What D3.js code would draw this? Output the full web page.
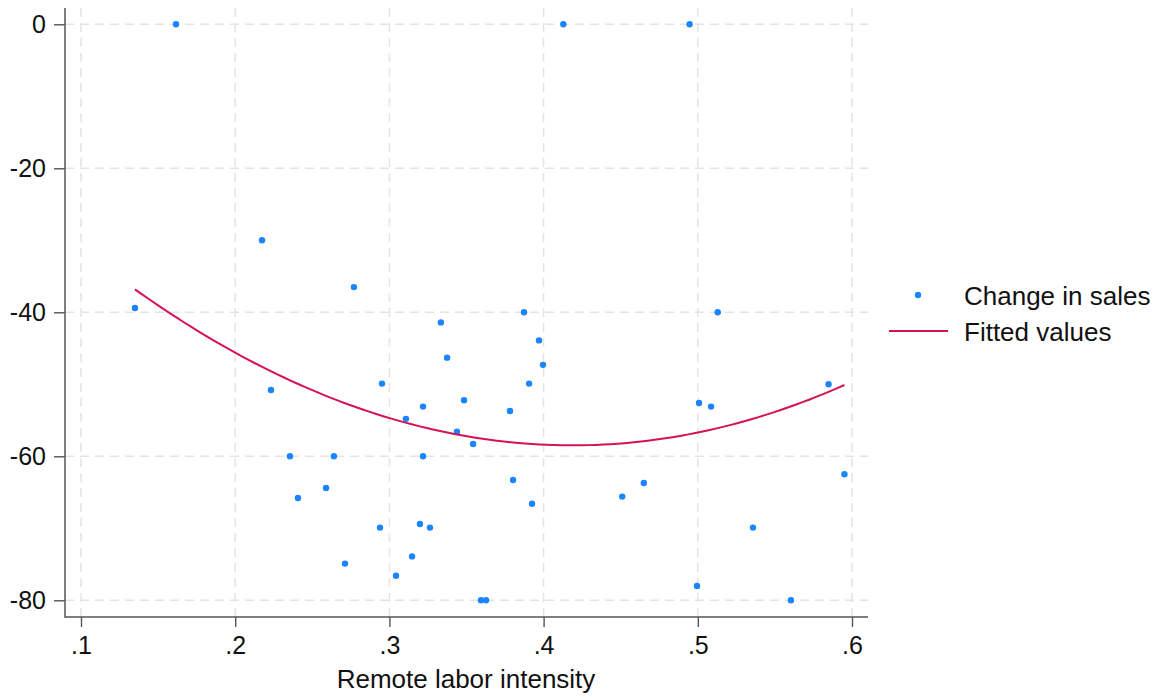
<!DOCTYPE html>
<html>
<head>
<meta charset="utf-8">
<script src="https://cdn.jsdelivr.net/npm/d3@7"></script>
<style>
  html, body { margin: 0; padding: 0; background: #fff; }
  svg { display: block; }
  text { font-family: "Liberation Sans", Arial, sans-serif; fill: #111; }
</style>
</head>
<body>
<svg id="chart" width="1160" height="698"></svg>
<script>
// ---- Data ----
const remoteIntensity = [0.135, 0.1616, 0.2174, 0.2232, 0.2355, 0.2407, 0.2589, 0.2640, 0.2712, 0.2770,
  0.2939, 0.2952, 0.3043, 0.3107, 0.3147, 0.3198, 0.3218, 0.3218, 0.3263, 0.3334,
  0.3374, 0.3438, 0.3484, 0.3543, 0.3594, 0.3627, 0.3782, 0.3802, 0.3873, 0.3906,
  0.3925, 0.3970, 0.3996, 0.4128, 0.4510, 0.4650, 0.4947, 0.4995, 0.5008, 0.5086,
  0.5129, 0.5358, 0.5604, 0.5848, 0.5951];
const changeInSales = [-39.4, 0, -30, -50.8, -60, -65.8, -64.4, -60, -74.9, -36.5,
  -69.9, -49.9, -76.6, -54.8, -73.9, -69.4, -53.1, -60, -69.9, -41.4,
  -46.3, -56.6, -52.2, -58.3, -80, -80, -53.7, -63.3, -40, -49.9,
  -66.6, -43.9, -47.3, 0, -65.6, -63.7, 0, -78, -52.6, -53.1,
  -40, -69.9, -80, -50, -62.5];
const xTicks = [0.1, 0.2, 0.3, 0.4, 0.5, 0.6];
const xTickLabels = [".1", ".2", ".3", ".4", ".5", ".6"];
const yTicks = [0, -20, -40, -60, -80];
const yTickLabels = ["0", "-20", "-40", "-60", "-80"];
const xTitle = "Remote labor intensity";
const legendLabels = ["Change in sales", "Fitted values"];

// ---- Quadratic least-squares fit (as in the original "Fitted values") ----
function quadFit(xs, ys) {
  const n = xs.length;
  let S = Array(5).fill(0), T = Array(3).fill(0);
  for (let i = 0; i < n; i++) {
    let p = 1;
    for (let k = 0; k < 5; k++) { S[k] += p; if (k < 3) T[k] += p * ys[i]; p *= xs[i]; }
  }
  const A = [[S[0], S[1], S[2], T[0]], [S[1], S[2], S[3], T[1]], [S[2], S[3], S[4], T[2]]];
  for (let c = 0; c < 3; c++) {
    for (let r = c + 1; r < 3; r++) {
      const f = A[r][c] / A[c][c];
      for (let k = c; k < 4; k++) A[r][k] -= f * A[c][k];
    }
  }
  const b = [0, 0, 0];
  for (let r = 2; r >= 0; r--) {
    let s = A[r][3];
    for (let k = r + 1; k < 3; k++) s -= A[r][k] * b[k];
    b[r] = s / A[r][r];
  }
  return b;
}
const coef = quadFit(remoteIntensity, changeInSales);
const xMin = d3.min(remoteIntensity), xMax = d3.max(remoteIntensity);
const fitted = d3.range(0, 101).map(i => {
  const x = xMin + (xMax - xMin) * i / 100;
  return [x, coef[0] + coef[1] * x + coef[2] * x * x];
});

// ---- Layout ----
const svg = d3.select("#chart");
const plotLeft = 65, plotRight = 868, plotTop = 8, plotBottom = 617;
const x = d3.scaleLinear().domain([0.1, 0.6]).range([81, 852]);
const y = d3.scaleLinear().domain([0, -80]).range([24.3, 600.3]);

const gridColor = "#e4e4e4";
// grid lines
svg.append("g").selectAll("line").data(yTicks).join("line")
  .attr("x1", plotLeft).attr("x2", plotRight)
  .attr("y1", d => y(d)).attr("y2", d => y(d))
  .attr("stroke", gridColor).attr("stroke-width", 1.5).attr("stroke-dasharray", "9,6");
svg.append("g").selectAll("line").data(xTicks).join("line")
  .attr("y1", plotTop).attr("y2", plotBottom)
  .attr("x1", d => x(d)).attr("x2", d => x(d))
  .attr("stroke", gridColor).attr("stroke-width", 1.5).attr("stroke-dasharray", "9,6");

// axes
const axisColor = "#555";
const yAxis = svg.append("g").attr("transform", `translate(${plotLeft},0)`)
  .call(d3.axisLeft(y).tickValues(yTicks).tickFormat((d, i) => yTickLabels[i]).tickSize(11).tickPadding(8));
const xAxis = svg.append("g").attr("transform", `translate(0,${plotBottom})`)
  .call(d3.axisBottom(x).tickValues(xTicks).tickFormat((d, i) => xTickLabels[i]).tickSize(10).tickPadding(9));
[yAxis, xAxis].forEach(g => {
  g.select(".domain").remove();
  g.selectAll(".tick line").attr("stroke", axisColor).attr("stroke-width", 1.4);
  g.selectAll(".tick text").attr("font-size", 25).attr("fill", "#111")
    .attr("font-family", "'Liberation Sans', Arial, sans-serif");
});
svg.append("line").attr("x1", plotLeft).attr("x2", plotLeft).attr("y1", plotTop).attr("y2", plotBottom + 0.7)
  .attr("stroke", axisColor).attr("stroke-width", 1.5);
svg.append("line").attr("x1", plotLeft).attr("x2", plotRight).attr("y1", plotBottom).attr("y2", plotBottom)
  .attr("stroke", axisColor).attr("stroke-width", 1.5);

// axis title
svg.append("text").attr("x", 466).attr("y", 688).attr("text-anchor", "middle")
  .attr("font-size", 26).text(xTitle);

const blue = "#1a85ff", red = "#d41159";

// points
svg.append("g").selectAll("circle").data(remoteIntensity.map((d, i) => [d, changeInSales[i]])).join("circle")
  .attr("cx", d => x(d[0])).attr("cy", d => y(d[1])).attr("r", 3.2).attr("fill", blue);

// fitted line
svg.append("path").datum(fitted)
  .attr("d", d3.line().x(d => x(d[0])).y(d => y(d[1])))
  .attr("fill", "none").attr("stroke", red).attr("stroke-width", 2);

// legend
const lg = svg.append("g");
lg.append("circle").attr("cx", 918).attr("cy", 295).attr("r", 3.2).attr("fill", blue);
lg.append("text").attr("x", 964).attr("y", 305).attr("font-size", 26).text(legendLabels[0]);
lg.append("line").attr("x1", 889).attr("x2", 948).attr("y1", 331).attr("y2", 331)
  .attr("stroke", red).attr("stroke-width", 2);
lg.append("text").attr("x", 964).attr("y", 341).attr("font-size", 26).text(legendLabels[1]);
</script>
</body>
</html>
